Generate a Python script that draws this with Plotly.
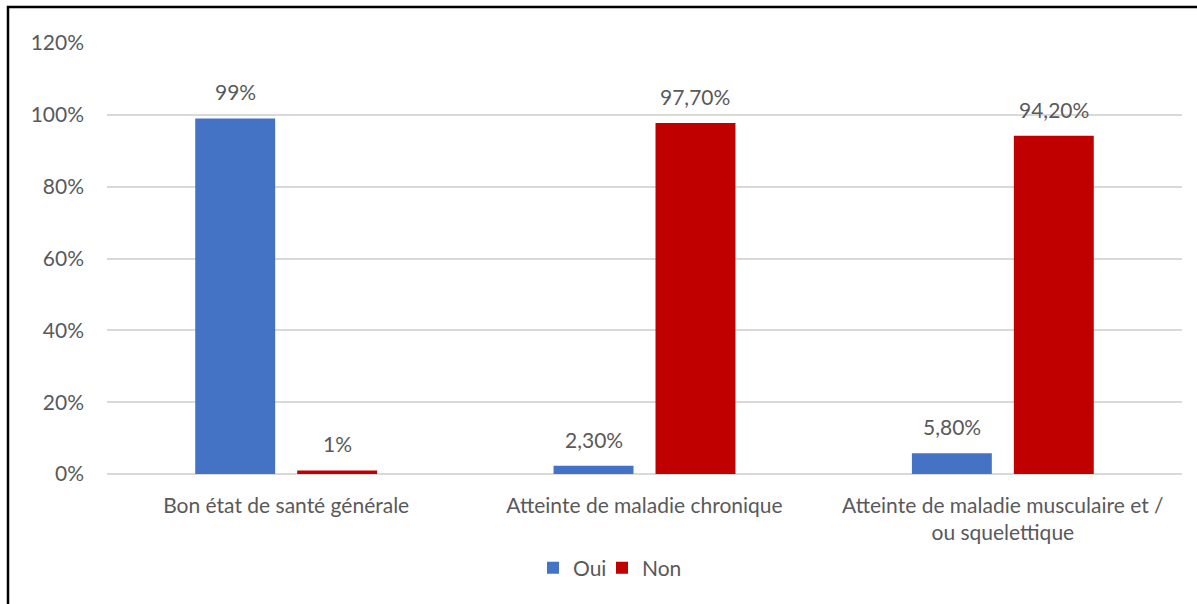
import plotly.graph_objects as go

categories = ["Bon état de santé générale",
              "Atteinte de maladie chronique",
              "Atteinte de maladie musculaire et /<br>ou squelettique"]
series_names = ["Oui", "Non"]
oui_values = [99, 2.3, 5.8]
non_values = [1, 97.7, 94.2]
oui_labels = ["99%", "2,30%", "5,80%"]
non_labels = ["1%", "97,70%", "94,20%"]
y_ticks = [0, 20, 40, 60, 80, 100, 120]
y_tick_labels = ["0%", "20%", "40%", "60%", "80%", "100%", "120%"]

FONT = "Lato"
FS = 21
GREY = "#595959"
COLORS = ["#4472C4", "#C00000"]

L, R, T, B = 107, 15, 43, 130
W, H = 1197, 604
pw, ph = W - L - R, H - T - B

def px_x(x):
    return (x - L) / pw

def px_y(y):
    return (H - B - y) / ph

BARGAP = 0.431
BARGROUPGAP = 0.216
slot = (1 - BARGAP) / 2  # in category units

legend_ids = ["legend", "legend2"]
legend_x_px = [533, 602]

fig = go.Figure()
annotations = []
for k, (name, vals, labs) in enumerate(zip(series_names, [oui_values, non_values], [oui_labels, non_labels])):
    fig.add_trace(go.Bar(name=name, x=categories, y=vals, marker_color=COLORS[k],
                         marker_line_width=0, legend=legend_ids[k]))
    off = (k - 0.5) * slot
    for i, (v, t) in enumerate(zip(vals, labs)):
        annotations.append(dict(x=i + off, y=v, xref="x", yref="y", text=t,
                                showarrow=False, yanchor="bottom", yshift=12,
                                font=dict(size=FS, color=GREY, family=FONT)))

legend_style = dict(orientation="h", yanchor="middle", y=px_y(568),
                    xanchor="left", font=dict(size=FS, color=GREY, family=FONT),
                    itemwidth=30, bgcolor="rgba(0,0,0,0)")

fig.update_layout(
    width=W, height=H,
    margin=dict(l=L, r=R, t=T, b=B),
    paper_bgcolor="white", plot_bgcolor="white",
    barmode="group", bargap=BARGAP, bargroupgap=BARGROUPGAP,
    font=dict(family=FONT, size=FS, color=GREY),
    showlegend=True,
    legend=dict(legend_style, x=px_x(legend_x_px[0])),
    legend2=dict(legend_style, x=px_x(legend_x_px[1])),
    xaxis=dict(type="category", showline=False, ticks="", ticklabelstandoff=17,
               tickfont=dict(size=FS, color=GREY)),
    yaxis=dict(range=[0, 120], tickvals=y_ticks, ticktext=y_tick_labels,
               showgrid=True, gridcolor="#D9D9D9", gridwidth=1.5,
               zeroline=True, zerolinecolor="#D9D9D9", zerolinewidth=1.5,
               showline=False, ticks="", ticklabelstandoff=22,
               tickfont=dict(size=FS, color=GREY)),
    annotations=annotations,
    shapes=[dict(type="rect", xref="paper", yref="paper",
                 x0=px_x(8), x1=px_x(1260), y0=px_y(700), y1=px_y(7),
                 line=dict(color="black", width=2.5), layer="above")],
)

fig.write_html("out.html", config={"displayModeBar": False},
               post_script="document.body.style.margin='0';document.body.style.overflow='hidden';")
